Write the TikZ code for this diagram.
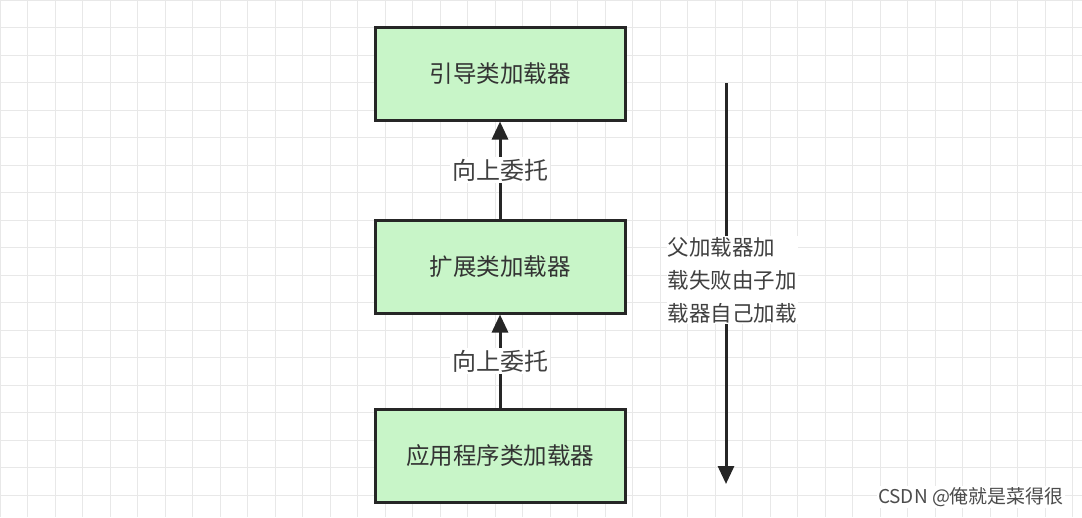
\documentclass[tikz,border=0pt]{standalone}
\usepackage{fontspec}
\setmainfont{Noto Sans CJK SC}
\usetikzlibrary{arrows.meta}
\definecolor{boxg}{RGB}{200,245,200}
\definecolor{gridc}{RGB}{232,232,232}
\tikzset{
  box/.style={draw=black!85, line width=3pt, fill=boxg, minimum width=250pt, minimum height=93pt, inner sep=0pt, font=\fontsize{23.5pt}{26pt}\selectfont, text=black!80},
  lab/.style={fill=white, inner sep=2pt, font=\fontsize{24pt}{26pt}\selectfont, text=black!75},
  arr/.style={line width=3pt, draw=black!85, -{Triangle[length=18pt,width=16pt]}}
}
\begin{document}
\begin{tikzpicture}[x=1pt,y=1pt]
\useasboundingbox (0,0) rectangle (1082,-517);
\fill[white] (0,0) rectangle (1082,-517);
\draw[gridc, line width=0.6pt, step=27.5] (0,-517) grid (1082,0);
\node[box] (a) at (500,-73.5) {引导类加载器};
\node[box] (b) at (500,-266.5) {扩展类加载器};
\node[box] (c) at (500,-456) {应用程序类加载器};
\draw[arr] (b) -- (a) node[lab, pos=0.5] (l1) {向上委托};
\draw[arr] (c) -- (b) node[lab, pos=0.5] (l2) {向上委托};
\coordinate (s) at (726,-83);
\coordinate (e) at (726,-484);
\draw[arr] (s) -- (e);
\node[lab, align=left, font=\fontsize{21.5pt}{33pt}\selectfont, inner sep=1pt] (t) at (732,-280) {父加载器加\\载失败由子加\\载器自己加载};
\node[font=\fontsize{19pt}{21pt}\selectfont, text=black!70, fill=white, inner sep=1pt] (w) at (971,-497) {CSDN @俺就是菜得很};
\end{tikzpicture}
\end{document}
